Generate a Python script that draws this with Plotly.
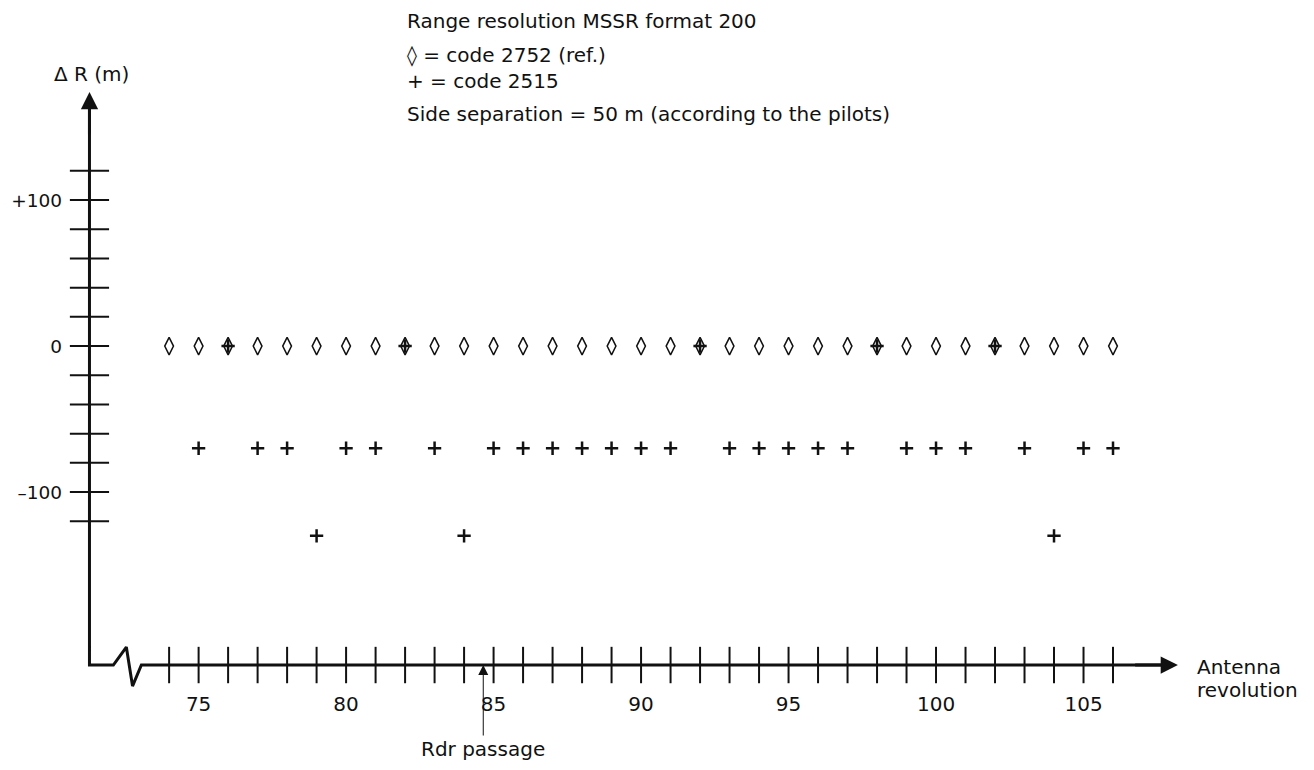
import plotly.graph_objects as go

# ---------------- data ----------------
revolutions = list(range(74, 107))                      # antenna revolutions
ref_code_2752 = [0] * len(revolutions)                 # ΔR of reference code (m)

code_2515_rev = [75, 76, 77, 78, 79, 80, 81, 82, 83, 84, 85, 86, 87, 88, 89, 90, 91,
                 92, 93, 94, 95, 96, 97, 98, 99, 100, 101, 102, 103, 104, 105, 106]
code_2515_dr = [-70, 0, -70, -70, -130, -70, -70, 0, -70, -130, -70, -70, -70, -70, -70, -70, -70,
                0, -70, -70, -70, -70, -70, 0, -70, -70, -70, 0, -70, -130, -70, -70]

x_tick_marks = list(range(74, 107))
x_tick_labels_vals = [75, 80, 85, 90, 95, 100, 105]
x_tick_labels_text = ["75", "80", "85", "90", "95", "100", "105"]
y_tick_marks = list(range(-120, 121, 20))
y_tick_label_vals = [100, 0, -100]
y_tick_label_text = ["+100", "0", "\u2013100"]

rdr_passage = 84.65

# ---------------- axes geometry (data units) ----------------
X_CORNER = 71.3
Y_CORNER = -218.5
Y_TOP = 174.0
X_END = 108.2
BREAK_DX = [0.0, 0.81, 1.25, 1.46, 1.76]
BREAK_DY = [0.0, 0.0, 12.3, -14.4, 0.0]

FONT = "DejaVu Sans"
FS = 20
BLACK = "#111111"

fig = go.Figure()

# axis line path (y axis + broken x axis)
ax_x = [X_CORNER, X_CORNER] + [X_CORNER + d for d in BREAK_DX] + [X_END - 0.4]
ax_y = [Y_TOP - 8, Y_CORNER] + [Y_CORNER + d for d in BREAK_DY] + [Y_CORNER]
fig.add_trace(go.Scatter(x=ax_x, y=ax_y, mode="lines",
                         line=dict(color=BLACK, width=3), hoverinfo="skip",
                         showlegend=False))

# tick marks
fig.add_trace(go.Scatter(x=[X_CORNER] * len(y_tick_marks), y=y_tick_marks, mode="markers",
                         marker=dict(symbol="line-ew", size=28, line=dict(color=BLACK, width=2)),
                         cliponaxis=False, hoverinfo="skip", showlegend=False))
fig.add_trace(go.Scatter(x=x_tick_marks, y=[Y_CORNER] * len(x_tick_marks), mode="markers",
                         marker=dict(symbol="line-ns", size=26, line=dict(color=BLACK, width=2)),
                         cliponaxis=False, hoverinfo="skip", showlegend=False))

# data series
fig.add_trace(go.Scatter(x=revolutions, y=ref_code_2752, mode="markers", name="code 2752 (ref.)",
                         marker=dict(symbol="diamond-tall-open", size=12.5,
                                     color=BLACK, line=dict(color=BLACK, width=1.5)),
                         showlegend=False))
fig.add_trace(go.Scatter(x=code_2515_rev, y=code_2515_dr, mode="markers", name="code 2515",
                         marker=dict(symbol="cross-thin-open", size=9.5,
                                     color=BLACK, line=dict(color=BLACK, width=2.5)),
                         showlegend=False))

txt = dict(family=FONT, size=FS, color=BLACK)
annotations = [
    # arrow heads
    dict(x=X_CORNER, y=Y_TOP, ax=X_CORNER, ay=Y_TOP - 30, axref="x", ayref="y",
         xref="x", yref="y", text="", showarrow=True, arrowhead=2, arrowsize=1.15,
         arrowwidth=3, arrowcolor=BLACK),
    dict(x=X_END, y=Y_CORNER, ax=X_END - 1.5, ay=Y_CORNER, axref="x", ayref="y",
         xref="x", yref="y", text="", showarrow=True, arrowhead=2, arrowsize=1.15,
         arrowwidth=3, arrowcolor=BLACK),
    # Rdr passage
    dict(x=rdr_passage, y=Y_CORNER, xref="x", yref="y", ax=0, ay=84,
         text="Rdr passage", showarrow=True, arrowhead=2, arrowsize=2, arrowwidth=1,
         arrowcolor=BLACK, font=txt),
    # axis titles
    dict(x=0.01875, y=1.0182, xref="paper", yref="paper", text="\u0394 R (m)", showarrow=False,
         xanchor="center", yanchor="middle", font=txt),
    dict(x=1.0045, y=0.038, xref="paper", yref="paper", text="Antenna", showarrow=False,
         xanchor="left", yanchor="middle", font=txt),
    dict(x=1.0045, y=0.0, xref="paper", yref="paper", text="revolution", showarrow=False,
         xanchor="left", yanchor="middle", font=txt),
    # header text
    dict(x=0.2991, y=1.1058, xref="paper", yref="paper", text="Range resolution MSSR format 200",
         showarrow=False, xanchor="left", yanchor="middle", font=txt),
    dict(x=0.2991, y=1.0273, xref="paper", yref="paper",
         text="\u25CA = code 2752 (ref.)<br>+ = code 2515", align="left",
         showarrow=False, xanchor="left", yanchor="middle", font=txt),
    dict(x=0.2991, y=0.9521, xref="paper", yref="paper",
         text="Side separation = 50 m (according to the pilots)",
         showarrow=False, xanchor="left", yanchor="middle", font=txt),
]

fig.update_layout(
    width=1314, height=770,
    margin=dict(l=62, r=132, t=77, b=88, autoexpand=False),
    paper_bgcolor="white", plot_bgcolor="white",
    annotations=annotations,
    font=txt,
    xaxis=dict(range=[70.64, 108.61], showgrid=False, zeroline=False, showline=False,
               ticks="", tickvals=x_tick_labels_vals, ticktext=x_tick_labels_text,
               tickfont=txt, automargin=False),
    yaxis=dict(range=[-235.6, 178.8], showgrid=False, zeroline=False, showline=False,
               ticks="", tickvals=y_tick_label_vals, ticktext=y_tick_label_text,
               tickfont=dict(family=FONT, size=18.5, color=BLACK),
               ticklabelstandoff=7, automargin=False),
)

fig.write_html("out.html")
